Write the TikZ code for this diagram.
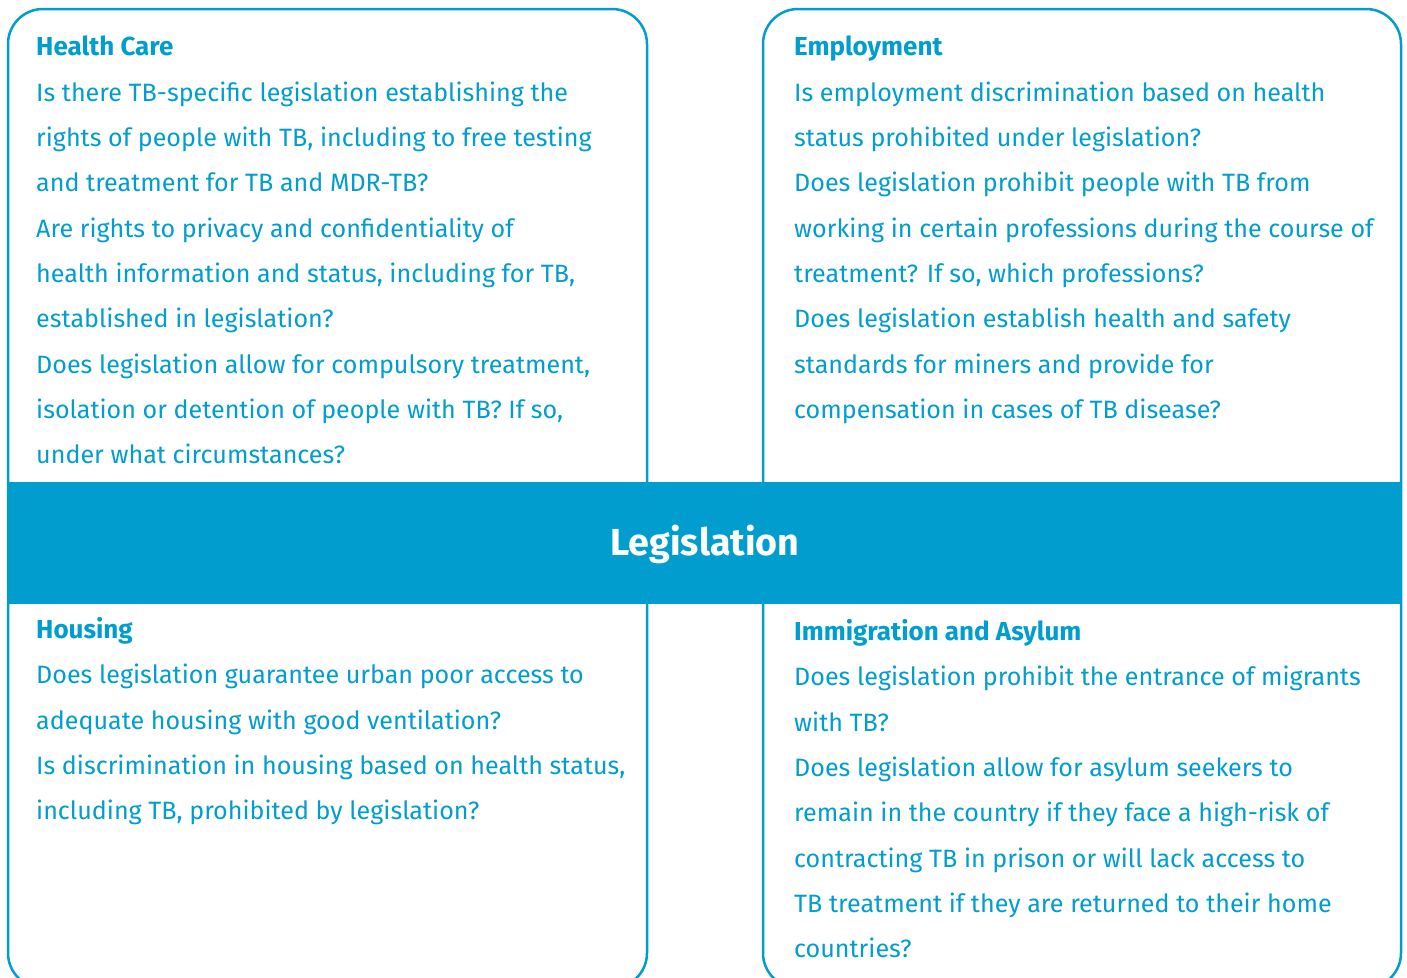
\documentclass[tikz,border=0pt]{standalone}
\usepackage{fontspec}
\newfontfamily\fira{Fira Sans}
\definecolor{tbblue}{RGB}{0,157,206}
\tikzset{
  boxline/.style={draw=tbblue, line width=2.5pt, rounded corners=35pt},
  txt/.style={anchor=base west, inner sep=0pt, text=tbblue, font=\fira\fontsize{25.1}{30}\selectfont},
  head/.style={txt, font=\fira\bfseries\fontsize{26}{30}\selectfont},
  banner/.style={fill=tbblue},
  title/.style={anchor=base, inner sep=0pt, text=white, font=\fira\bfseries\fontsize{37.6}{44}\selectfont}
}
\begin{document}
\begin{tikzpicture}[x=1pt, y=-1pt]
\useasboundingbox (0,0) rectangle (1407,977);
\clip (0,0) rectangle (1407,977);
\draw[boxline] (8,9) rectangle (647,988);
\draw[boxline] (763,9) rectangle (1401,988);
\fill[banner] (7,482) rectangle (1402,604);
\node[title] (leg) at (705,555) {Legislation};
% Health Care
\node[head] (hc0) at (36,55) {Health Care};
\node[txt] (hc1) at (36,101) {Is there TB-specific legislation establishing the};
\node[txt] (hc2) at (36,146) {rights of people with TB, including to free testing};
\node[txt] (hc3) at (36,191) {and treatment for TB and MDR-TB?};
\node[txt] (hc4) at (36,237) {Are rights to privacy and confidentiality of};
\node[txt] (hc5) at (36,282) {health information and status, including for TB,};
\node[txt] (hc6) at (36,327) {established in legislation?};
\node[txt] (hc7) at (36,373) {Does legislation allow for compulsory treatment,};
\node[txt] (hc8) at (36,418) {isolation or detention of people with TB? If so,};
\node[txt] (hc9) at (36,463) {under what circumstances?};
% Employment
\node[head] (em0) at (794,55) {Employment};
\node[txt] (em1) at (794,101) {Is employment discrimination based on health};
\node[txt] (em2) at (794,146) {status prohibited under legislation?};
\node[txt] (em3) at (794,191) {Does legislation prohibit people with TB from};
\node[txt] (em4) at (794,237) {working in certain professions during the course of};
\node[txt] (em5) at (794,282) {treatment? If so, which professions?};
\node[txt] (em6) at (794,327) {Does legislation establish health and safety};
\node[txt] (em7) at (794,373) {standards for miners and provide for};
\node[txt] (em8) at (794,418) {compensation in cases of TB disease?};
% Housing
\node[head] (ho0) at (36,638) {Housing};
\node[txt] (ho1) at (36,683) {Does legislation guarantee urban poor access to};
\node[txt] (ho2) at (36,729) {adequate housing with good ventilation?};
\node[txt] (ho3) at (36,774) {Is discrimination in housing based on health status,};
\node[txt] (ho4) at (36,819) {including TB, prohibited by legislation?};
% Immigration
\node[head] (im0) at (794,640) {Immigration and Asylum};
\node[txt] (im1) at (794,685) {Does legislation prohibit the entrance of migrants};
\node[txt] (im2) at (794,731) {with TB?};
\node[txt] (im3) at (794,776) {Does legislation allow for asylum seekers to};
\node[txt] (im4) at (794,821) {remain in the country if they face a high-risk of};
\node[txt] (im5) at (794,867) {contracting TB in prison or will lack access to};
\node[txt] (im6) at (794,912) {TB treatment if they are returned to their home};
\node[txt] (im7) at (794,957) {countries?};
\end{tikzpicture}
\end{document}
